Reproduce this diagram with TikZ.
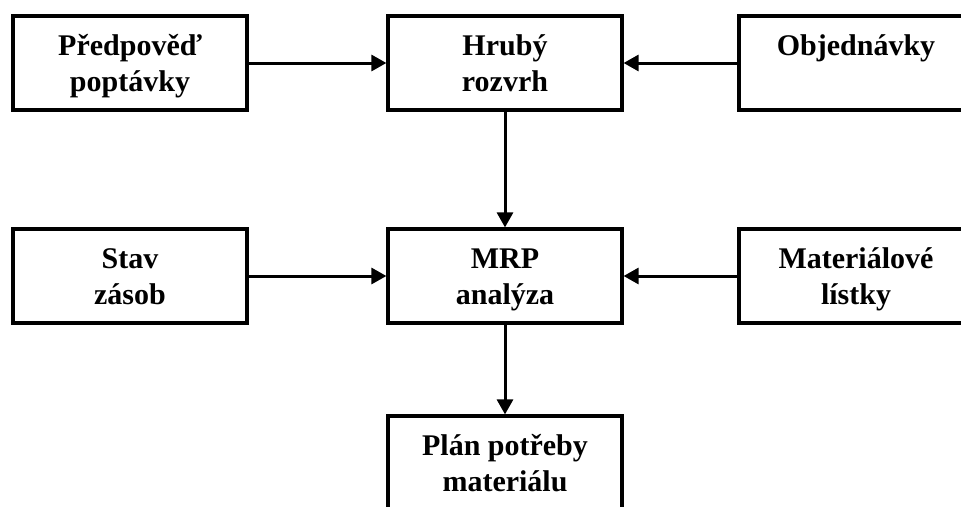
\documentclass[tikz,border=0pt]{standalone}
\usepackage{fontspec}
\setmainfont{Liberation Serif}
\usetikzlibrary{arrows.meta}
\newcommand\ls{\rule[-7pt]{0pt}{35pt}}
\begin{document}
\begin{tikzpicture}[x=1pt,y=-1pt,
  box/.style={draw, line width=3.2pt, minimum width=234pt, minimum height=94pt,
    inner sep=0pt, align=center, font=\fontsize{30}{36}\selectfont\bfseries},
  arr/.style={line width=3pt, -{Triangle[length=15pt,width=16pt]}}]
\useasboundingbox (0,0) rectangle (961,506);
\node[box] (pred) at (130,63) {\ls Předpověď\\\ls poptávky};
\node[box] (hrub) at (505,63) {\ls Hrubý\\\ls rozvrh};
\node[box] (obj)  at (856,63) {\ls Objednávky\\\ls};
\node[box] (stav) at (130,276) {\ls Stav\\\ls zásob};
\node[box] (mrp)  at (505,276) {\ls MRP\\\ls analýza};
\node[box] (mat)  at (856,276) {\ls Materiálové\\\ls lístky};
\node[box] (plan) at (505,463) {\ls Plán potřeby\\\ls materiálu};
\draw[arr] (pred) -- (hrub);
\draw[arr] (obj) -- (hrub);
\draw[arr] (hrub) -- (mrp);
\draw[arr] (stav) -- (mrp);
\draw[arr] (mat) -- (mrp);
\draw[arr] (mrp) -- (plan);
\end{tikzpicture}
\end{document}
